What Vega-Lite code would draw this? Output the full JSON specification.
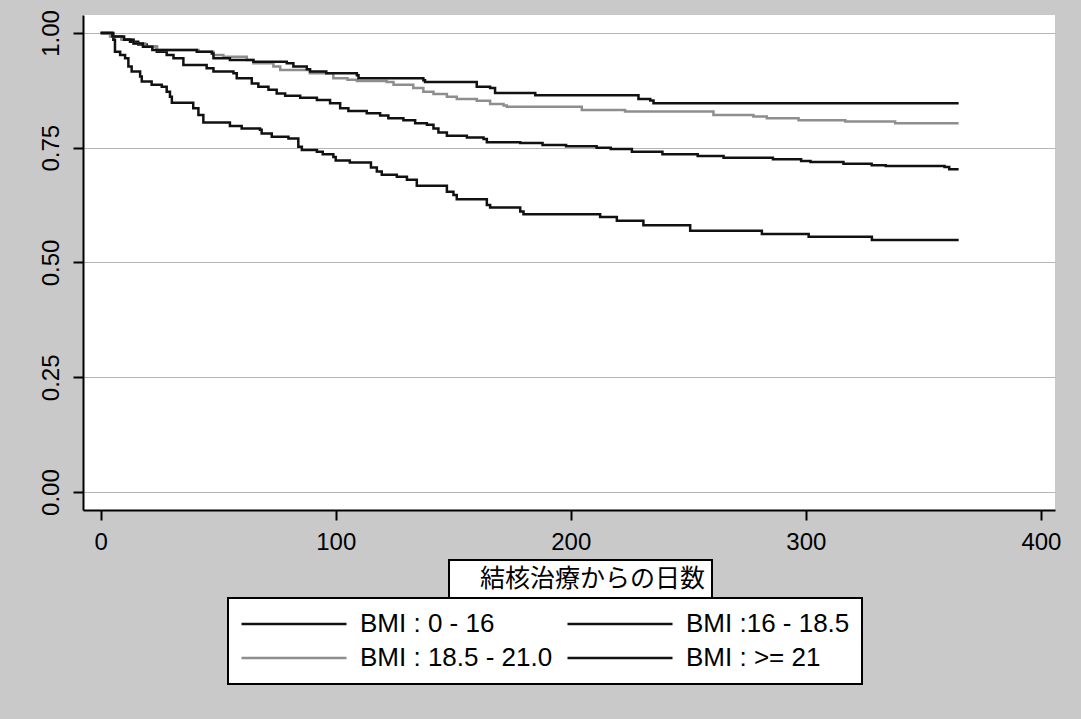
{
  "$schema": "https://vega.github.io/schema/vega-lite/v6.json",
  "width": 972,
  "height": 495,
  "autosize": {"type": "none"},
  "padding": {"left": 83, "top": 15, "right": 26, "bottom": 209},
  "background": "#c9c9c9",
  "config": {
    "view": {"fill": "white", "stroke": null},
    "font": "Liberation Sans"
  },
  "datasets": {
    "km": [
      {"g": "BMI : 0 - 16", "t": 0, "s": 1.0},
      {"g": "BMI : 0 - 16", "t": 4.7, "s": 0.993},
      {"g": "BMI : 0 - 16", "t": 5.4, "s": 0.985},
      {"g": "BMI : 0 - 16", "t": 6.1, "s": 0.959},
      {"g": "BMI : 0 - 16", "t": 8.3, "s": 0.952},
      {"g": "BMI : 0 - 16", "t": 10.4, "s": 0.945},
      {"g": "BMI : 0 - 16", "t": 11.8, "s": 0.927},
      {"g": "BMI : 0 - 16", "t": 13.2, "s": 0.916},
      {"g": "BMI : 0 - 16", "t": 16.8, "s": 0.905},
      {"g": "BMI : 0 - 16", "t": 17.5, "s": 0.894},
      {"g": "BMI : 0 - 16", "t": 21.7, "s": 0.887},
      {"g": "BMI : 0 - 16", "t": 26, "s": 0.883},
      {"g": "BMI : 0 - 16", "t": 28.1, "s": 0.872},
      {"g": "BMI : 0 - 16", "t": 29.5, "s": 0.861},
      {"g": "BMI : 0 - 16", "t": 30.3, "s": 0.848},
      {"g": "BMI : 0 - 16", "t": 39.4, "s": 0.836},
      {"g": "BMI : 0 - 16", "t": 41.6, "s": 0.821},
      {"g": "BMI : 0 - 16", "t": 43.7, "s": 0.805},
      {"g": "BMI : 0 - 16", "t": 55, "s": 0.797},
      {"g": "BMI : 0 - 16", "t": 60, "s": 0.792},
      {"g": "BMI : 0 - 16", "t": 67.8, "s": 0.789},
      {"g": "BMI : 0 - 16", "t": 68.5, "s": 0.781},
      {"g": "BMI : 0 - 16", "t": 72.8, "s": 0.774},
      {"g": "BMI : 0 - 16", "t": 79.9, "s": 0.77},
      {"g": "BMI : 0 - 16", "t": 84.1, "s": 0.752},
      {"g": "BMI : 0 - 16", "t": 85.6, "s": 0.745},
      {"g": "BMI : 0 - 16", "t": 92, "s": 0.741},
      {"g": "BMI : 0 - 16", "t": 94.5, "s": 0.736},
      {"g": "BMI : 0 - 16", "t": 99, "s": 0.73},
      {"g": "BMI : 0 - 16", "t": 100, "s": 0.722},
      {"g": "BMI : 0 - 16", "t": 106, "s": 0.718},
      {"g": "BMI : 0 - 16", "t": 115, "s": 0.707},
      {"g": "BMI : 0 - 16", "t": 117.5, "s": 0.698},
      {"g": "BMI : 0 - 16", "t": 119.6, "s": 0.691},
      {"g": "BMI : 0 - 16", "t": 126, "s": 0.687},
      {"g": "BMI : 0 - 16", "t": 130.3, "s": 0.68},
      {"g": "BMI : 0 - 16", "t": 134.5, "s": 0.667},
      {"g": "BMI : 0 - 16", "t": 147.3, "s": 0.654},
      {"g": "BMI : 0 - 16", "t": 150.1, "s": 0.647},
      {"g": "BMI : 0 - 16", "t": 151.5, "s": 0.638},
      {"g": "BMI : 0 - 16", "t": 164.3, "s": 0.625},
      {"g": "BMI : 0 - 16", "t": 165.7, "s": 0.62},
      {"g": "BMI : 0 - 16", "t": 178.5, "s": 0.611},
      {"g": "BMI : 0 - 16", "t": 179.9, "s": 0.605},
      {"g": "BMI : 0 - 16", "t": 212.5, "s": 0.599},
      {"g": "BMI : 0 - 16", "t": 219.6, "s": 0.591},
      {"g": "BMI : 0 - 16", "t": 230.9, "s": 0.581},
      {"g": "BMI : 0 - 16", "t": 250.8, "s": 0.569},
      {"g": "BMI : 0 - 16", "t": 281.3, "s": 0.562},
      {"g": "BMI : 0 - 16", "t": 301.2, "s": 0.556},
      {"g": "BMI : 0 - 16", "t": 328.1, "s": 0.549},
      {"g": "BMI : 0 - 16", "t": 365, "s": 0.549},

      {"g": "BMI :16 - 18.5", "t": 0, "s": 1.0},
      {"g": "BMI :16 - 18.5", "t": 5.4, "s": 0.992},
      {"g": "BMI :16 - 18.5", "t": 9, "s": 0.986},
      {"g": "BMI :16 - 18.5", "t": 12.5, "s": 0.981},
      {"g": "BMI :16 - 18.5", "t": 16, "s": 0.975},
      {"g": "BMI :16 - 18.5", "t": 19.6, "s": 0.97},
      {"g": "BMI :16 - 18.5", "t": 23.9, "s": 0.959},
      {"g": "BMI :16 - 18.5", "t": 28.1, "s": 0.952},
      {"g": "BMI :16 - 18.5", "t": 31, "s": 0.945},
      {"g": "BMI :16 - 18.5", "t": 35.2, "s": 0.93},
      {"g": "BMI :16 - 18.5", "t": 45.1, "s": 0.923},
      {"g": "BMI :16 - 18.5", "t": 48, "s": 0.916},
      {"g": "BMI :16 - 18.5", "t": 56.5, "s": 0.912},
      {"g": "BMI :16 - 18.5", "t": 57.9, "s": 0.901},
      {"g": "BMI :16 - 18.5", "t": 64.3, "s": 0.89},
      {"g": "BMI :16 - 18.5", "t": 67.1, "s": 0.883},
      {"g": "BMI :16 - 18.5", "t": 71.4, "s": 0.876},
      {"g": "BMI :16 - 18.5", "t": 74.9, "s": 0.868},
      {"g": "BMI :16 - 18.5", "t": 78.5, "s": 0.863},
      {"g": "BMI :16 - 18.5", "t": 84.9, "s": 0.859},
      {"g": "BMI :16 - 18.5", "t": 92, "s": 0.854},
      {"g": "BMI :16 - 18.5", "t": 97.6, "s": 0.847},
      {"g": "BMI :16 - 18.5", "t": 101.9, "s": 0.836},
      {"g": "BMI :16 - 18.5", "t": 105.4, "s": 0.83},
      {"g": "BMI :16 - 18.5", "t": 113.2, "s": 0.825},
      {"g": "BMI :16 - 18.5", "t": 118.9, "s": 0.82},
      {"g": "BMI :16 - 18.5", "t": 122.4, "s": 0.814},
      {"g": "BMI :16 - 18.5", "t": 128.8, "s": 0.81},
      {"g": "BMI :16 - 18.5", "t": 133.8, "s": 0.803},
      {"g": "BMI :16 - 18.5", "t": 138.8, "s": 0.8},
      {"g": "BMI :16 - 18.5", "t": 141.6, "s": 0.792},
      {"g": "BMI :16 - 18.5", "t": 143.7, "s": 0.783},
      {"g": "BMI :16 - 18.5", "t": 147.3, "s": 0.776},
      {"g": "BMI :16 - 18.5", "t": 155.8, "s": 0.772},
      {"g": "BMI :16 - 18.5", "t": 162.9, "s": 0.769},
      {"g": "BMI :16 - 18.5", "t": 164.3, "s": 0.762},
      {"g": "BMI :16 - 18.5", "t": 178.5, "s": 0.76},
      {"g": "BMI :16 - 18.5", "t": 188, "s": 0.756},
      {"g": "BMI :16 - 18.5", "t": 198, "s": 0.753},
      {"g": "BMI :16 - 18.5", "t": 211, "s": 0.75},
      {"g": "BMI :16 - 18.5", "t": 217, "s": 0.747},
      {"g": "BMI :16 - 18.5", "t": 226, "s": 0.741},
      {"g": "BMI :16 - 18.5", "t": 239, "s": 0.736},
      {"g": "BMI :16 - 18.5", "t": 254, "s": 0.732},
      {"g": "BMI :16 - 18.5", "t": 265, "s": 0.728},
      {"g": "BMI :16 - 18.5", "t": 286, "s": 0.725},
      {"g": "BMI :16 - 18.5", "t": 298, "s": 0.721},
      {"g": "BMI :16 - 18.5", "t": 302, "s": 0.719},
      {"g": "BMI :16 - 18.5", "t": 316, "s": 0.715},
      {"g": "BMI :16 - 18.5", "t": 328, "s": 0.712},
      {"g": "BMI :16 - 18.5", "t": 334, "s": 0.71},
      {"g": "BMI :16 - 18.5", "t": 359, "s": 0.708},
      {"g": "BMI :16 - 18.5", "t": 361, "s": 0.703},
      {"g": "BMI :16 - 18.5", "t": 365, "s": 0.703},

      {"g": "BMI : 18.5 - 21.0", "t": 0, "s": 1.0},
      {"g": "BMI : 18.5 - 21.0", "t": 4, "s": 0.992},
      {"g": "BMI : 18.5 - 21.0", "t": 9, "s": 0.985},
      {"g": "BMI : 18.5 - 21.0", "t": 14, "s": 0.977},
      {"g": "BMI : 18.5 - 21.0", "t": 19, "s": 0.97},
      {"g": "BMI : 18.5 - 21.0", "t": 24, "s": 0.963},
      {"g": "BMI : 18.5 - 21.0", "t": 41.6, "s": 0.959},
      {"g": "BMI : 18.5 - 21.0", "t": 48, "s": 0.952},
      {"g": "BMI : 18.5 - 21.0", "t": 52.2, "s": 0.948},
      {"g": "BMI : 18.5 - 21.0", "t": 62.2, "s": 0.941},
      {"g": "BMI : 18.5 - 21.0", "t": 65, "s": 0.934},
      {"g": "BMI : 18.5 - 21.0", "t": 73.5, "s": 0.927},
      {"g": "BMI : 18.5 - 21.0", "t": 76.4, "s": 0.919},
      {"g": "BMI : 18.5 - 21.0", "t": 89, "s": 0.912},
      {"g": "BMI : 18.5 - 21.0", "t": 99, "s": 0.901},
      {"g": "BMI : 18.5 - 21.0", "t": 105, "s": 0.898},
      {"g": "BMI : 18.5 - 21.0", "t": 109, "s": 0.895},
      {"g": "BMI : 18.5 - 21.0", "t": 121.7, "s": 0.893},
      {"g": "BMI : 18.5 - 21.0", "t": 124.6, "s": 0.887},
      {"g": "BMI : 18.5 - 21.0", "t": 133, "s": 0.88},
      {"g": "BMI : 18.5 - 21.0", "t": 137.3, "s": 0.872},
      {"g": "BMI : 18.5 - 21.0", "t": 141.6, "s": 0.867},
      {"g": "BMI : 18.5 - 21.0", "t": 147.3, "s": 0.861},
      {"g": "BMI : 18.5 - 21.0", "t": 151.5, "s": 0.856},
      {"g": "BMI : 18.5 - 21.0", "t": 160, "s": 0.852},
      {"g": "BMI : 18.5 - 21.0", "t": 165.7, "s": 0.845},
      {"g": "BMI : 18.5 - 21.0", "t": 171.4, "s": 0.842},
      {"g": "BMI : 18.5 - 21.0", "t": 172.8, "s": 0.839},
      {"g": "BMI : 18.5 - 21.0", "t": 204.7, "s": 0.832},
      {"g": "BMI : 18.5 - 21.0", "t": 223.1, "s": 0.829},
      {"g": "BMI : 18.5 - 21.0", "t": 260.7, "s": 0.821},
      {"g": "BMI : 18.5 - 21.0", "t": 277.7, "s": 0.818},
      {"g": "BMI : 18.5 - 21.0", "t": 283.4, "s": 0.814},
      {"g": "BMI : 18.5 - 21.0", "t": 296.9, "s": 0.81},
      {"g": "BMI : 18.5 - 21.0", "t": 316.8, "s": 0.807},
      {"g": "BMI : 18.5 - 21.0", "t": 338, "s": 0.803},
      {"g": "BMI : 18.5 - 21.0", "t": 365, "s": 0.803},

      {"g": "BMI : >= 21", "t": 0, "s": 1.0},
      {"g": "BMI : >= 21", "t": 5, "s": 0.992},
      {"g": "BMI : >= 21", "t": 10, "s": 0.985},
      {"g": "BMI : >= 21", "t": 14, "s": 0.977},
      {"g": "BMI : >= 21", "t": 18, "s": 0.97},
      {"g": "BMI : >= 21", "t": 22, "s": 0.963},
      {"g": "BMI : >= 21", "t": 40.9, "s": 0.959},
      {"g": "BMI : >= 21", "t": 47.3, "s": 0.955},
      {"g": "BMI : >= 21", "t": 48, "s": 0.945},
      {"g": "BMI : >= 21", "t": 55, "s": 0.941},
      {"g": "BMI : >= 21", "t": 65, "s": 0.937},
      {"g": "BMI : >= 21", "t": 79.2, "s": 0.934},
      {"g": "BMI : >= 21", "t": 82, "s": 0.927},
      {"g": "BMI : >= 21", "t": 87.7, "s": 0.921},
      {"g": "BMI : >= 21", "t": 89.1, "s": 0.916},
      {"g": "BMI : >= 21", "t": 96, "s": 0.912},
      {"g": "BMI : >= 21", "t": 109, "s": 0.908},
      {"g": "BMI : >= 21", "t": 109.7, "s": 0.901},
      {"g": "BMI : >= 21", "t": 137.3, "s": 0.897},
      {"g": "BMI : >= 21", "t": 138, "s": 0.893},
      {"g": "BMI : >= 21", "t": 160, "s": 0.883},
      {"g": "BMI : >= 21", "t": 165.7, "s": 0.88},
      {"g": "BMI : >= 21", "t": 167.8, "s": 0.869},
      {"g": "BMI : >= 21", "t": 184.9, "s": 0.864},
      {"g": "BMI : >= 21", "t": 228.8, "s": 0.856},
      {"g": "BMI : >= 21", "t": 233.8, "s": 0.853},
      {"g": "BMI : >= 21", "t": 235.2, "s": 0.847},
      {"g": "BMI : >= 21", "t": 365, "s": 0.847}
    ]
  },
  "data": {"name": "km"},
  "mark": {"type": "line", "interpolate": "step-after", "strokeWidth": 2.5, "clip": true},
  "encoding": {
    "x": {
      "field": "t", "type": "quantitative",
      "scale": {"domain": [-7.5, 406], "nice": false, "zero": false},
      "axis": {
        "title": null, "values": [0, 100, 200, 300, 400], "grid": false,
        "domainColor": "black", "domainWidth": 2, "tickColor": "black", "tickWidth": 2, "tickSize": 10,
        "labelFont": "Liberation Sans", "labelFontSize": 24, "labelColor": "black", "labelPadding": 10
      }
    },
    "y": {
      "field": "s", "type": "quantitative",
      "scale": {"domain": [-0.039, 1.039], "nice": false, "zero": false},
      "axis": {
        "title": null, "values": [0, 0.25, 0.5, 0.75, 1], "format": ".2f",
        "grid": true, "gridColor": "#b5b5b5", "gridWidth": 1,
        "domainColor": "black", "domainWidth": 2, "tickColor": "black", "tickWidth": 2, "tickSize": 10,
        "labelFont": "Liberation Sans", "labelFontSize": 24, "labelColor": "black",
        "labelAngle": -90, "labelAlign": "center", "labelBaseline": "bottom", "labelPadding": 10
      }
    },
    "color": {
      "field": "g", "type": "nominal",
      "scale": {
        "domain": ["BMI : 0 - 16", "BMI :16 - 18.5", "BMI : 18.5 - 21.0", "BMI : >= 21"],
        "range": ["#111111", "#111111", "#8e8e8e", "#111111"]
      },
      "legend": {
        "title": null, "orient": "none", "legendX": 145, "legendY": 583,
        "columns": 2, "gridAlign": "all", "direction": "horizontal",
        "symbolType": "stroke", "symbolSize": 11025, "symbolStrokeWidth": 2.5, "clipHeight": 28,
        "labelFont": "Liberation Sans", "labelFontSize": 26, "labelColor": "black", "labelLimit": 400,
        "labelOffset": 12, "columnPadding": 13, "rowPadding": 6,
        "padding": 12, "strokeColor": "black", "fillColor": "white",
        "encode": {"legend": {"update": {"stroke": {"value": "black"}, "strokeWidth": {"value": 2}}}}
      }
    },
    "opacity": {
      "datum": "結核治療からの日数", "type": "ordinal",
      "scale": {"range": [1]},
      "legend": {
        "title": null, "orient": "none", "legendX": 366, "legendY": 545,
        "symbolSize": 0, "symbolOpacity": 0, "symbolStrokeWidth": 0, "labelOffset": 0,
        "labelFont": "Noto Sans CJK JP", "labelFontSize": 25, "labelColor": "black", "labelLimit": 400,
        "padding": 6, "strokeColor": "black", "fillColor": "white",
        "encode": {"legend": {"update": {"stroke": {"value": "black"}, "strokeWidth": {"value": 2}}}}
      }
    }
  }
}
